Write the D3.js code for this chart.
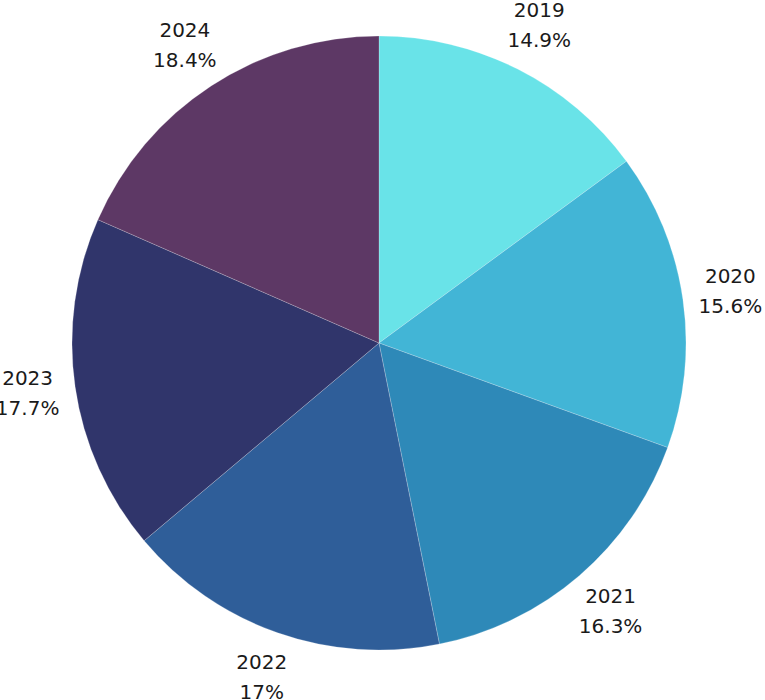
<!DOCTYPE html>
<html><head><meta charset="utf-8">
<script src="https://cdn.jsdelivr.net/npm/d3@7"></script>
<style>body{margin:0;background:#fff}</style>
</head><body>
<svg id="c" width="765" height="700"></svg>
<script>
const categories = ["2019","2020","2021","2022","2023","2024"];
const values = [14.9, 15.6, 16.3, 17, 17.7, 18.4];
const colors = ["#69e3e8","#42b5d6","#2e89b8","#2f5e99","#30356b","#5d3865"];

const svg = d3.select("#c");
const cx = 379, cy = 343, R = 307, LR = 355;
const g = svg.append("g").attr("transform", `translate(${cx},${cy})`);
const data = categories.map((c,i)=>({cat:c, v:values[i], col:colors[i]}));
const pie = d3.pie().value(d=>d.v).sort(null);
const arcs = pie(data);
const arc = d3.arc().innerRadius(0).outerRadius(R);
const labelArc = d3.arc().innerRadius(LR).outerRadius(LR);
g.selectAll("path").data(arcs).join("path")
  .attr("d", arc).attr("fill", d=>d.data.col)
  .attr("stroke", "rgba(255,255,255,0.35)").attr("stroke-width", 0.6);
const lbl = g.selectAll("text").data(arcs).join("text")
  .attr("transform", d=>`translate(${labelArc.centroid(d)})`)
  .attr("text-anchor","middle")
  .style("font-family","'DejaVu Sans', sans-serif")
  .style("font-size","20px").attr("fill","#1a1a1a");
lbl.append("tspan").attr("x",0).attr("dy","-0.45em").text(d=>d.data.cat);
lbl.append("tspan").attr("x",0).attr("dy","1.5em").text(d=>d.data.v+"%");
</script>
</body></html>
